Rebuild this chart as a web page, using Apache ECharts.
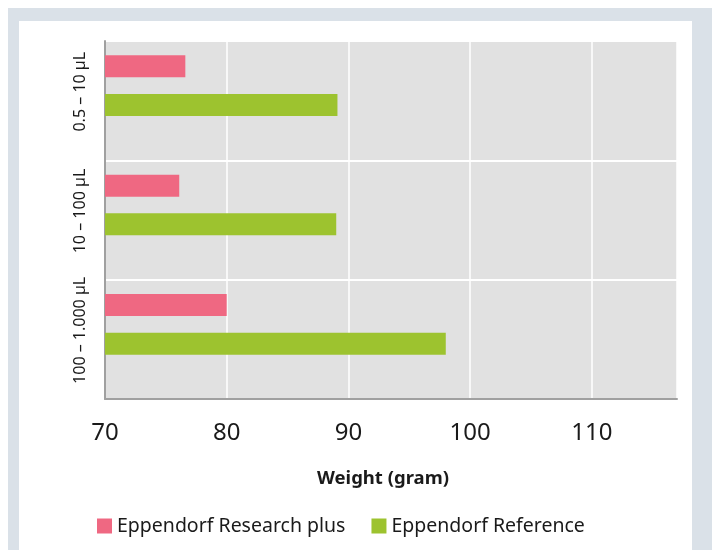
<!DOCTYPE html>
<html>
<head>
<meta charset="utf-8">
<script src="https://cdn.jsdelivr.net/npm/echarts@6/dist/echarts.min.js"></script>
<style>
  html, body { margin: 0; padding: 0; background: #ffffff; }
  #frame { position: absolute; left: 8px; top: 8px; width: 704px; height: 542px; background: #dae1e8; }
  #panel { position: absolute; left: 19px; top: 21px; width: 673px; height: 529px; background: #ffffff; }
  #chart { position: absolute; left: 0; top: 0; width: 712px; height: 550px; }
</style>
</head>
<body>
<div id="frame"></div>
<div id="panel"></div>
<div id="chart"></div>
<script>
const categories = ['0.5 – 10 µL', '10 – 100 µL', '100 – 1.000 µL'];
const researchPlus = [76.6, 76.1, 80.0];
const reference = [89.1, 89.0, 98.0];
const seriesNames = ['Eppendorf Research plus', 'Eppendorf Reference'];
const xTicks = [70, 80, 90, 100, 110];

const chart = echarts.init(document.getElementById('chart'), null, { renderer: 'canvas' });
const font = 'Noto Sans';
chart.setOption({
  backgroundColor: 'transparent',
  animation: false,
  grid: {
    left: 105, top: 41, right: 35, bottom: 151,
    show: true, backgroundColor: '#e1e1e1', borderWidth: 0
  },
  legend: {
    data: seriesNames,
    bottom: 9,
    left: 92,
    itemWidth: 15, itemHeight: 15, itemGap: 26,
    icon: 'rect',
    textStyle: { fontFamily: font, fontSize: 19.5, color: '#1a1a1a', padding: [0, 0, 0, 0] }
  },
  xAxis: {
    type: 'value',
    min: xTicks[0], max: 117, interval: 10,
    name: 'Weight (gram)',
    nameLocation: 'middle',
    nameGap: 70,
    nameTextStyle: { fontFamily: font, fontSize: 18.5, fontWeight: 'bold', color: '#1a1a1a', padding: [0, 16, 0, 0] },
    axisLine: { show: true, lineStyle: { color: '#a0a0a0', width: 2 } },
    axisTick: { show: false },
    axisLabel: { fontFamily: font, fontSize: 24, color: '#1a1a1a', margin: 22, showMaxLabel: false },
    splitLine: { show: true, lineStyle: { color: '#ffffff', width: 1.5 } }
  },
  yAxis: {
    type: 'category',
    data: categories,
    inverse: true,
    axisLine: { show: true, lineStyle: { color: '#a0a0a0', width: 2 } },
    axisTick: { show: false },
    axisLabel: { interval: 0, fontFamily: font, fontSize: 16, color: '#1a1a1a', rotate: 90, margin: 17, padding: [0, 0, 0, 18] },
    splitLine: { show: true, interval: 0, lineStyle: { color: '#ffffff', width: 2 } }
  },
  series: [
    { name: seriesNames[0], type: 'bar', data: researchPlus, barWidth: 22, barGap: '75.5%', itemStyle: { color: '#ef6882' } },
    { name: seriesNames[1], type: 'bar', data: reference, barWidth: 22, barGap: '75.5%', itemStyle: { color: '#9dc32f' } },
    { name: '', type: 'bar', data: [], barWidth: 13.4, barGap: '75.5%' }
  ]
});
</script>
</body>
</html>
